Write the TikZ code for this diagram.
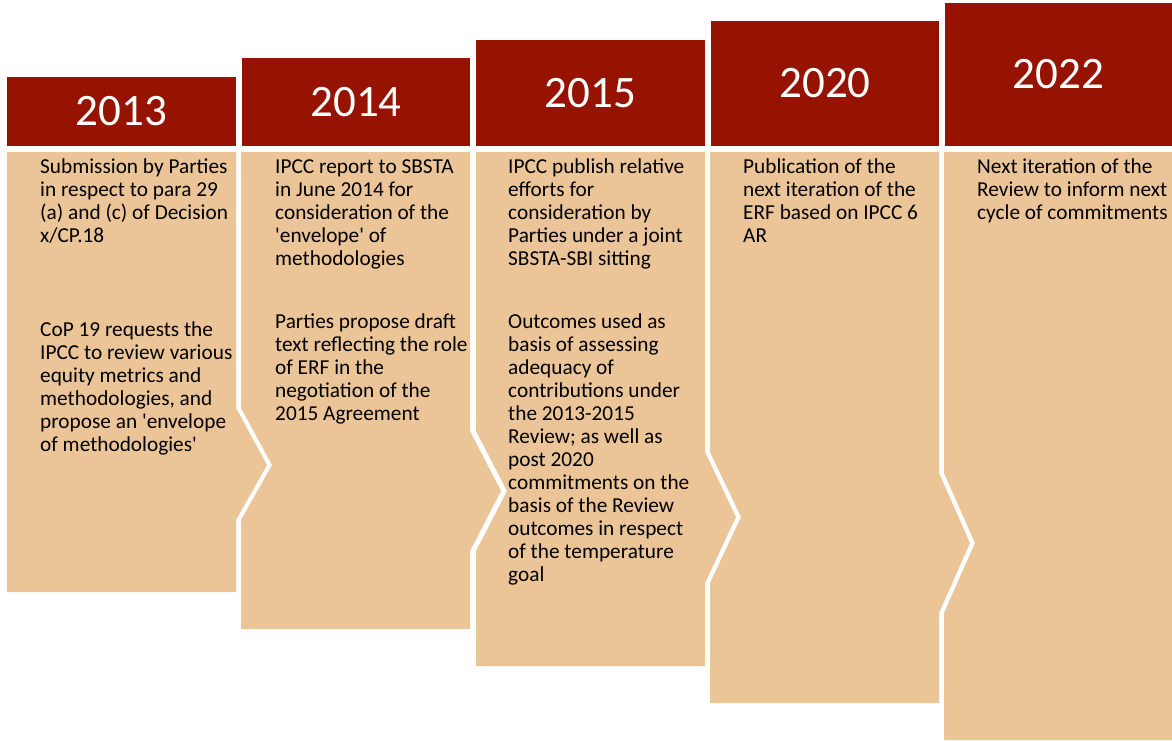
\documentclass[tikz,border=0pt]{standalone}
\usepackage{fontspec}
\setmainfont{Carlito}[Ligatures=TeXOff]
\definecolor{hdr}{HTML}{951300}
\definecolor{tanbody}{HTML}{EBC598}
\begin{document}
\begin{tikzpicture}[x=1pt,y=-1pt,
  hdrfill/.style={fill=hdr},
  bodyfill/.style={fill=tanbody},
  year/.style={text=white,inner sep=0,font=\fontsize{45}{54}\selectfont},
  txt/.style={anchor=north west,align=left,inner sep=0,font=\fontsize{21.3}{23}\selectfont}]
\useasboundingbox (0,0) rectangle (1172,740);
% headers
\fill[hdrfill] (7,77) rectangle (236,146);
\fill[hdrfill] (242,58) rectangle (470,146);
\fill[hdrfill] (476,40) rectangle (705,146);
\fill[hdrfill] (711,21) rectangle (939,146);
\fill[hdrfill] (945,3) rectangle (1172,146);
\node[year] (y2013) at (121.5,111.5) {2013};
\node[year] (y2014) at (356,102) {2014};
\node[year] (y2015) at (590.5,93) {2015};
\node[year] (y2020) at (825,83.5) {2020};
\node[year] (y2022) at (1058.5,74.5) {2022};
% bodies
\fill[bodyfill] (7,152) -- (236,152) -- (236,408) -- (267,465) -- (236,520) -- (236,592) -- (7,592) -- cycle;
\fill[bodyfill] (241,152) -- (470,152) -- (470,431) -- (501,491) -- (470,551) -- (470,629) -- (241,629) -- (241,520) -- (272,465) -- (241,408) -- cycle;
\fill[bodyfill] (476,152) -- (705,152) -- (705,452) -- (736,517) -- (705,583) -- (705,666) -- (476,666) -- (476,551) -- (507,491) -- (476,431) -- cycle;
\fill[bodyfill] (710,152) -- (939,152) -- (939,473) -- (970,543) -- (939,613) -- (939,703) -- (710,703) -- (710,583) -- (741,517) -- (710,452) -- cycle;
\fill[bodyfill] (944,152) -- (1172,152) -- (1172,740) -- (944,740) -- (944,613) -- (975,543) -- (944,473) -- cycle;
% texts (anchor = top of strut of first line; baseline = y + 16.1)
\node[txt] (t1a) at (40,156.9) {\strut Submission by Parties\\in respect to para 29\\(a) and (c) of Decision\\x/CP.18};
\node[txt] (t1b) at (40,319.9) {\strut CoP 19 requests the\\IPCC to review various\\equity metrics and\\methodologies, and\\propose an 'envelope\\of methodologies'};
\node[txt] (t2a) at (275,156.9) {\strut IPCC report to SBSTA\\in June 2014 for\\consideration of the\\'envelope' of\\methodologies};
\node[txt] (t2b) at (275,311.9) {\strut Parties propose draft\\text reflecting the role\\of ERF in the\\negotiation of the\\2015 Agreement};
\node[txt] (t3a) at (508,156.9) {\strut IPCC publish relative\\efforts for\\consideration by\\Parties under a joint\\SBSTA-SBI sitting};
\node[txt] (t3b) at (508,311.9) {\strut Outcomes used as\\basis of assessing\\adequacy of\\contributions under\\the 2013-2015\\Review; as well as\\post 2020\\commitments on the\\basis of the Review\\outcomes in respect\\of the temperature\\goal};
\node[txt] (t4a) at (743,156.9) {\strut Publication of the\\next iteration of the\\ERF based on IPCC 6\\AR};
\node[txt] (t5a) at (977,156.9) {\strut Next iteration of the\\Review to inform next\\cycle of commitments};
\end{tikzpicture}
\end{document}
